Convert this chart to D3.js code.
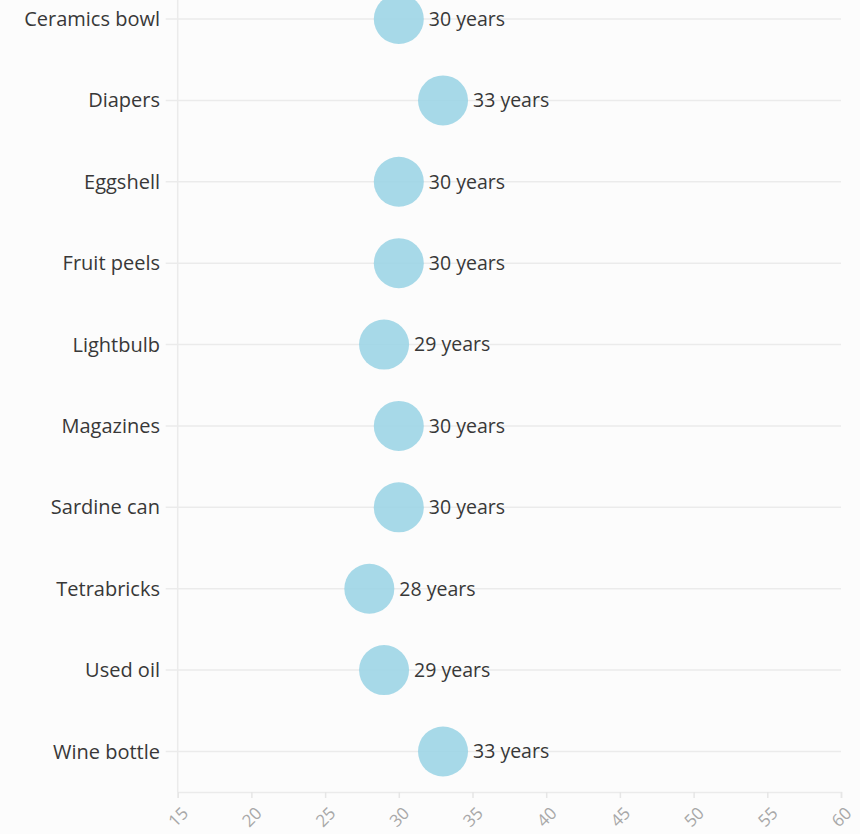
<!DOCTYPE html>
<html><head><meta charset="utf-8">
<script src="https://cdn.jsdelivr.net/npm/d3@7"></script>
<style>
html,body{margin:0;padding:0;background:#fcfcfc;}
svg{display:block;}
text{font-family:"Open Sans","Noto Sans",sans-serif;}
</style></head>
<body>
<svg id="chart" width="860" height="834"></svg>
<script>
const categories = ["Ceramics bowl","Diapers","Eggshell","Fruit peels","Lightbulb","Magazines","Sardine can","Tetrabricks","Used oil","Wine bottle"];
const values = [30,33,30,30,29,30,30,28,29,33];
const xTicks = [15,20,25,30,35,40,45,50,55,60];
const unit = "years";

const svg = d3.select("#chart");
const x = d3.scaleLinear().domain([15,60]).range([177.7,841]);
const y = d3.scalePoint().domain(categories).range([19,751.5]);
const axisY = 792;

// vertical axis line
svg.append("line").attr("x1",x(15)).attr("x2",x(15)).attr("y1",0).attr("y2",axisY)
  .attr("stroke","#ebebeb").attr("stroke-width",1.5);

// horizontal gridlines
svg.append("g").selectAll("line").data(categories).join("line")
  .attr("x1",x(15)-12).attr("x2",x(60))
  .attr("y1",d=>y(d)).attr("y2",d=>y(d))
  .attr("stroke","#ebebeb").attr("stroke-width",1.5);

// category labels
svg.append("g").selectAll("text").data(categories).join("text")
  .attr("x",160).attr("y",d=>y(d)).attr("dy","0.35em")
  .attr("text-anchor","end").attr("font-size",20).attr("fill","#383838")
  .text(d=>d);

// x axis
const xAxis = d3.axisBottom(x).tickValues(xTicks).tickSize(6).tickPadding(0).tickFormat(d3.format("d"));
const gx = svg.append("g").attr("transform",`translate(0,${axisY})`).call(xAxis);
gx.select(".domain").attr("stroke","#ebebeb").attr("stroke-width",1.5);
gx.selectAll(".tick line").attr("stroke","#e6e6e6").attr("stroke-width",1.5);
gx.selectAll(".tick text").attr("fill","#a8a8a8").attr("font-size",17)
  .attr("font-family","'Open Sans', sans-serif")
  .attr("text-anchor","middle").attr("y",0).attr("dy","0.35em")
  .attr("transform","translate(0,25) rotate(-45)");

// circles
const data = categories.map((c,i)=>({c, v: values[i]}));
svg.append("g").selectAll("circle").data(data).join("circle")
  .attr("cx",d=>x(d.v)).attr("cy",d=>y(d.c)).attr("r",25)
  .attr("fill","#9dd5e5").attr("fill-opacity",0.9);

// value labels
svg.append("g").selectAll("text").data(data).join("text")
  .attr("x",d=>x(d.v)+30).attr("y",d=>y(d.c)).attr("dy","0.35em")
  .attr("font-size",19.5).attr("fill","#383838")
  .text(d=>`${d.v} ${unit}`);
</script>
</body></html>
